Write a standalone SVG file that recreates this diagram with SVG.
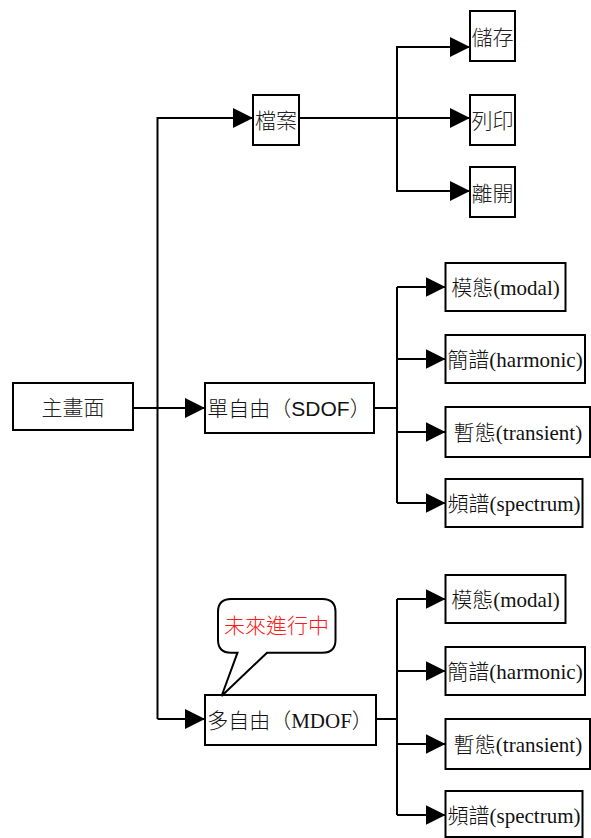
<svg xmlns="http://www.w3.org/2000/svg" width="591" height="838" viewBox="0 0 591 838">
<defs>
<marker id="arr" markerUnits="userSpaceOnUse" markerWidth="20" markerHeight="20" refX="20" refY="10" orient="auto">
<path d="M0,0 L20,10 L0,20 Z" fill="#000"/>
</marker>
<style>
rect.box{fill:#fff;stroke:#000;stroke-width:2}
.c{fill:none;stroke:#000;stroke-width:2}
.a{fill:none;stroke:#000;stroke-width:2;marker-end:url(#arr)}
text{font-size:21px;fill:#111;text-anchor:middle;font-weight:300}
.cjk{font-family:"Noto Sans CJK TC","Noto Sans CJK SC",sans-serif;fill:#222}
.ser{font-family:"Liberation Serif","Noto Sans CJK TC",serif}
.san{font-family:"Liberation Sans","Noto Sans CJK TC",sans-serif}
</style>
</defs>
<rect width="591" height="838" fill="#fff"/>
<g id="connectors">
<path class="c" d="M133,408 H185"/>
<path class="a" d="M185,408 H205"/>
<path class="a" d="M157.5,719 V118 H253"/>
<path class="a" d="M157.5,719 H205"/>
<path class="a" d="M299,118 H470"/>
<path class="a" d="M397,118 V47 H470"/>
<path class="a" d="M397,118 V191 H470"/>
<path class="c" d="M374,408 H397 M397,287 V503"/>
<path class="a" d="M397,287 H445.5"/>
<path class="a" d="M397,359 H445.5"/>
<path class="a" d="M397,432 H445.5"/>
<path class="a" d="M397,503 H445.5"/>
<path class="c" d="M376,719 H397 M397,599 V815"/>
<path class="a" d="M397,599 H445.5"/>
<path class="a" d="M397,671 H445.5"/>
<path class="a" d="M397,744 H445.5"/>
<path class="a" d="M397,815 H445.5"/>
</g>
<g id="main"><rect class="box" x="13" y="383" width="120" height="47"/><text class="cjk" x="73" y="415">主畫面</text></g>
<g id="file"><rect class="box" x="253" y="95" width="46" height="50"/><text class="cjk" x="276" y="128">檔案</text></g>
<g id="save"><rect class="box" x="470" y="11" width="45" height="50"/><text class="cjk" x="492.5" y="44.5">儲存</text></g>
<g id="print"><rect class="box" x="470" y="95" width="45" height="50"/><text class="cjk" x="492.5" y="128">列印</text></g>
<g id="exit"><rect class="box" x="470" y="167" width="45" height="50"/><text class="cjk" x="492.5" y="200.5">離開</text></g>
<g id="sdof"><rect class="box" x="205" y="383" width="169" height="50"/><text class="san" x="289" y="416">單自由（SDOF）</text></g>
<g id="s-modal"><rect class="box" x="445.5" y="263" width="120" height="48"/><text class="ser" x="505.5" y="295">模態(modal)</text></g>
<g id="s-harmonic"><rect class="box" x="445.5" y="335" width="139.5" height="48"/><text class="ser" x="515" y="367">簡譜(harmonic)</text></g>
<g id="s-transient"><rect class="box" x="445.5" y="407" width="144.5" height="50"/><text class="ser" x="518" y="440">暫態(transient)</text></g>
<g id="s-spectrum"><rect class="box" x="445.5" y="479" width="137" height="48"/><text class="ser" x="514" y="511">頻譜(spectrum)</text></g>
<g id="mdof"><rect class="box" x="205" y="695" width="171" height="50"/><text class="ser" x="290" y="728">多自由（MDOF）</text></g>
<g id="m-modal"><rect class="box" x="445.5" y="575" width="120" height="48"/><text class="ser" x="505.5" y="607">模態(modal)</text></g>
<g id="m-harmonic"><rect class="box" x="445.5" y="647" width="139.5" height="48"/><text class="ser" x="515" y="679">簡譜(harmonic)</text></g>
<g id="m-transient"><rect class="box" x="445.5" y="719" width="144.5" height="50"/><text class="ser" x="518" y="752">暫態(transient)</text></g>
<g id="m-spectrum"><rect class="box" x="445.5" y="791" width="137" height="46"/><text class="ser" x="514" y="823">頻譜(spectrum)</text></g>
<g id="callout">
<path d="M231,599 H322.5 Q335.5,599 335.5,612 V639.7 Q335.5,652.7 322.5,652.7 H267 L221.6,696 L237.5,652.7 H231 Q218,652.7 218,639.7 V612 Q218,599 231,599 Z" fill="#fff" stroke="#000" stroke-width="2"/>
<text class="cjk" x="276.5" y="633" style="fill:#ff1a1a">未來進行中</text>
</g>
</svg>
